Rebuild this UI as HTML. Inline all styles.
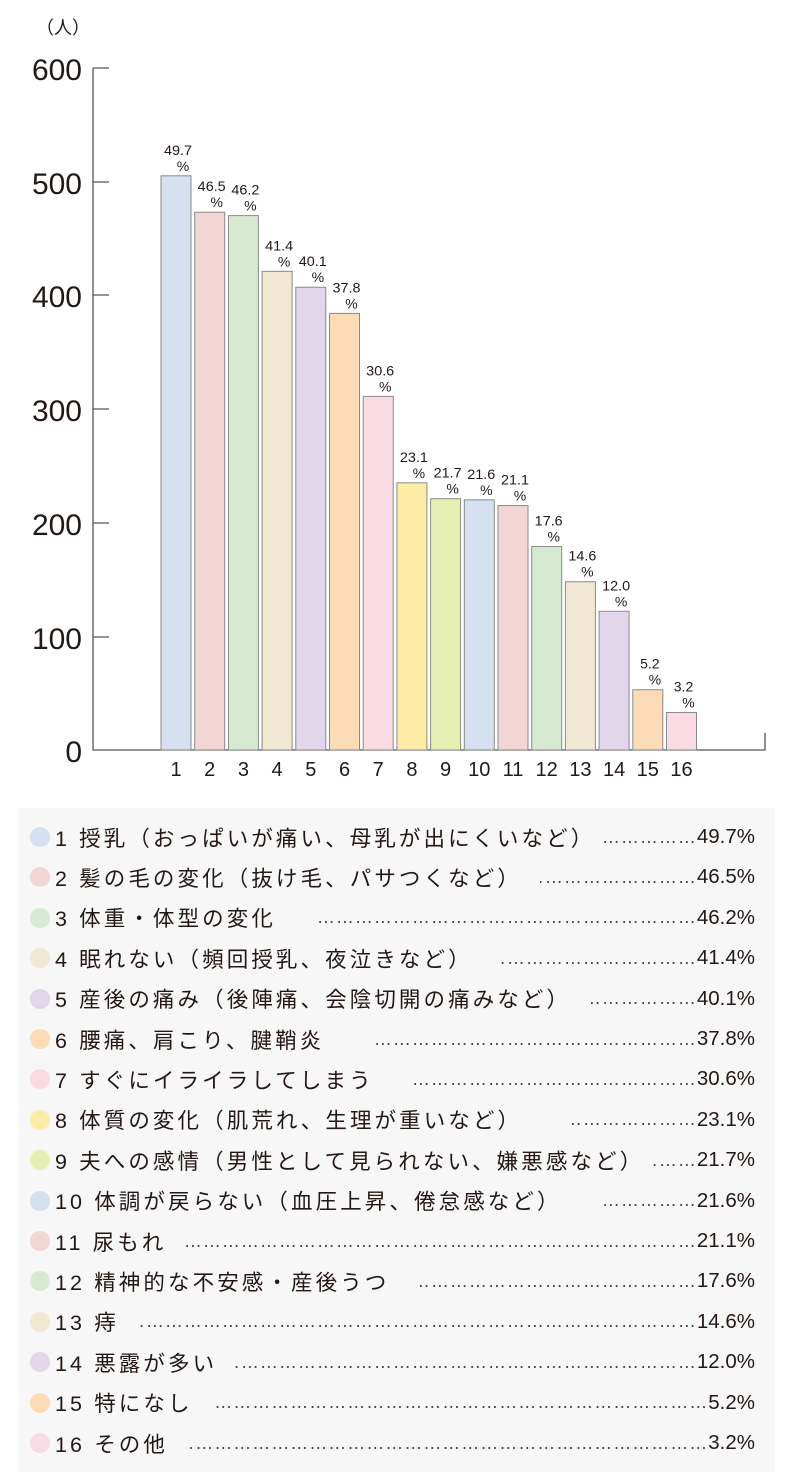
<!DOCTYPE html>
<html><head><meta charset="utf-8"><style>
body{margin:0;background:#fff;width:788px;height:1482px;overflow:hidden;font-family:"Liberation Sans","Noto Sans CJK JP",sans-serif;color:#231815}
#lg{position:absolute;left:18px;top:808px;width:757px;height:664px;background:#f7f7f7}
.r{position:absolute;left:0;width:737px;height:40px;display:flex;align-items:center;font-size:20px;white-space:nowrap}
.d{width:20px;height:20px;border-radius:50%;margin-left:12px;margin-right:5px;flex:none}
.t{font-size:21.5px;letter-spacing:3.1px}
.l{flex:1;overflow:hidden;direction:rtl;text-align:right;margin-left:14px;letter-spacing:1px;color:#444;font-size:18px}
.p{flex:none;font-size:20.5px}
</style></head><body>
<svg width="788" height="800" style="position:absolute;left:0;top:0" font-family="Liberation Sans, Noto Sans CJK JP, sans-serif" fill="#231815">
<text x="36" y="34" font-size="18">（人）</text>
<g font-size="30" text-anchor="end">
<text x="82" y="80">600</text><text x="82" y="194">500</text><text x="82" y="307">400</text><text x="82" y="421">300</text><text x="82" y="535">200</text><text x="82" y="649">100</text><text x="82" y="762">0</text>
</g>
<g stroke="#555" stroke-width="1.3" fill="none">
<path d="M93 68V750H765V733"/>
<path d="M93 68h16M93 182h16M93 295h16M93 409h16M93 523h16M93 637h16"/>
</g>
<g id="bars"></g>
</svg>
<div id="lg"></div>
<script>
var v=[505,473,470,421,407,384,311,235,221,220,215,179,148,122,53,33];
var pc=["49.7","46.5","46.2","41.4","40.1","37.8","30.6","23.1","21.7","21.6","21.1","17.6","14.6","12.0","5.2","3.2"];
var col=["#d5e0f0","#f2d5d5","#d6ead2","#f0e8d2","#e2d6ea","#fbdcb6","#fadbe3","#fdeca6","#e6efb4"];
var c=[0,1,2,3,4,5,6,7,8,0,1,2,3,4,5,6];
var s="";
for(var i=0;i<16;i++){var x=161+i*33.7,y=750-v[i]*1.137,cx=x+15;
var tl=pc[i].length==4?' textLength="28" lengthAdjust="spacingAndGlyphs"':'';
s+='<rect x="'+x+'" y="'+y+'" width="30" height="'+(750-y)+'" fill="'+col[c[i]]+'" stroke="#8a8a8a" stroke-width="1"/>';
s+='<text x="'+(cx+2)+'" y="'+(y-21)+'" font-size="14" text-anchor="middle"'+tl+'>'+pc[i]+'</text>';
s+='<text x="'+(cx+7)+'" y="'+(y-5)+'" font-size="14" text-anchor="middle">%</text>';
s+='<text x="'+cx+'" y="776" font-size="20" text-anchor="middle">'+(i+1)+'</text>';}
document.getElementById("bars").innerHTML=s;
var L=["1 授乳（おっぱいが痛い、母乳が出にくいなど）","2 髪の毛の変化（抜け毛、パサつくなど）","3 体重・体型の変化","4 眠れない（頻回授乳、夜泣きなど）","5 産後の痛み（後陣痛、会陰切開の痛みなど）","6 腰痛、肩こり、腱鞘炎","7 すぐにイライラしてしまう","8 体質の変化（肌荒れ、生理が重いなど）","9 夫への感情（男性として見られない、嫌悪感など）","10 体調が戻らない（血圧上昇、倦怠感など）","11 尿もれ","12 精神的な不安感・産後うつ","13 痔","14 悪露が多い","15 特になし","16 その他"];
var g=[0,10,30,20,10,40,30,40,0,30,10,20,10,10,10,10];
var h="";
for(var i=0;i<16;i++){h+='<div class="r" style="top:'+(9+i*40.4)+'px"><span class="d" style="background:'+col[c[i]]+'"></span><span class="t">'+L[i]+'</span><span class="l" style="margin-left:'+(8+g[i])+'px">'+"…".repeat(60)+'</span><span class="p">'+pc[i]+'%</span></div>';}
document.getElementById("lg").innerHTML=h;
</script>
</body></html>
